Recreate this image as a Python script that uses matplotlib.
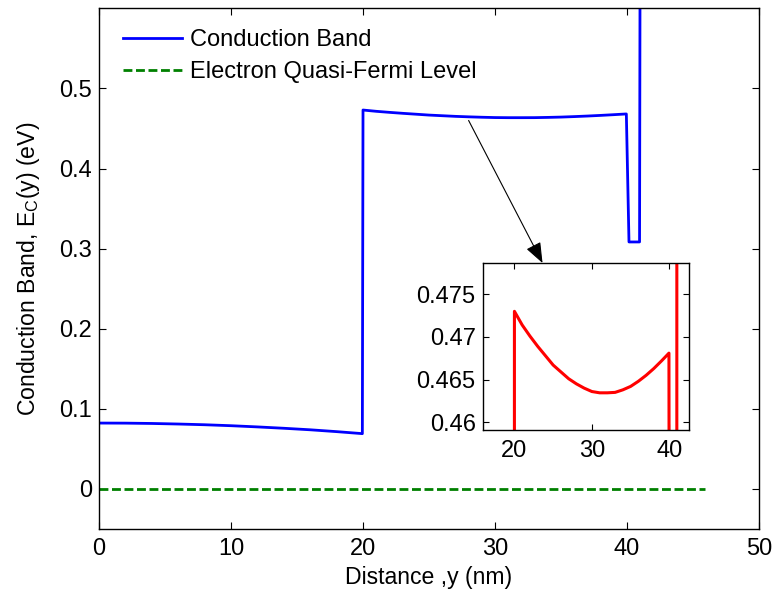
import matplotlib
matplotlib.use("Agg")
import matplotlib.pyplot as plt

plt.rcParams['font.family'] = ['Liberation Sans', 'DejaVu Sans']
plt.rcParams['mathtext.fontset'] = 'custom'
plt.rcParams['mathtext.rm'] = 'Liberation Sans'

# Conduction band profile along the channel (nm, eV)
y_nm = [0, 2, 4, 6, 8, 10, 12, 14, 16, 18, 19.95,
        20.0, 21, 22, 23, 24, 25, 26, 27, 28, 29, 30, 31, 32, 33, 34, 35,
        36, 37, 38, 39, 39.95, 40.15, 40.95, 41.0]
ec = [0.0822, 0.0821, 0.0817, 0.0810, 0.0801, 0.0789, 0.0774, 0.0757, 0.0738, 0.0715, 0.0690,
      0.4730, 0.4714, 0.4701, 0.4689, 0.4678, 0.4667, 0.4659, 0.4651, 0.4645, 0.4640, 0.4636,
      0.46345, 0.46345, 0.4635, 0.4638, 0.4642, 0.4648, 0.4655, 0.4663, 0.4672, 0.4681,
      0.3083, 0.3083, 0.75]

# Electron quasi-Fermi level
fermi_x = [0, 45.9]
fermi_e = [0.0, 0.0]

xticks = [0, 10, 20, 30, 40, 50]
yticks = [0, 0.1, 0.2, 0.3, 0.4, 0.5]
yticklabels = ['0', '0.1', '0.2', '0.3', '0.4', '0.5']
inset_xticks = [20, 30, 40]
inset_yticks = [0.46, 0.465, 0.47, 0.475]
inset_yticklabels = ['0.46', '0.465', '0.47', '0.475']

FS_TICK = 17
FS_LABEL = 16.6

fig = plt.figure(figsize=(7.76, 5.93), dpi=100)
ax = fig.add_axes([0.1276, 0.108, 0.8505, 0.878])

ax.plot(y_nm, ec, color='#0000ff', lw=2.0, label='Conduction Band')
ax.plot(fermi_x, fermi_e, color='#008000', lw=2.0, linestyle=(0, (3.2, 1.3)),
        label='Electron Quasi-Fermi Level')

ax.set_xlim(0, 50)
ax.set_ylim(-0.05, 0.6)
ax.set_xticks(xticks)
ax.set_yticks(yticks)
ax.set_yticklabels(yticklabels)
ax.tick_params(direction='in', top=True, right=True, length=5, width=0.8,
               labelsize=FS_TICK, pad=5)
ax.tick_params(axis='x', pad=6.5)
for s in ax.spines.values():
    s.set_linewidth(1.0)
ax.set_xlabel('Distance ,y (nm)', fontsize=FS_LABEL, labelpad=4)
ax.set_ylabel(r'Conduction Band, E$_\mathregular{C}$(y) (eV)', fontsize=FS_LABEL)
ax.yaxis.set_label_coords(-0.087, 0.5)

leg = ax.legend(loc='upper left', frameon=False, fontsize=FS_TICK, handlelength=2.5,
                handletextpad=0.35, labelspacing=0.42, borderaxespad=0.0,
                borderpad=0.0, bbox_to_anchor=(0.036, 0.96))

ax.annotate('', xy=(33.6, 0.282), xytext=(28.0, 0.460),
            arrowprops=dict(arrowstyle='-|>,head_length=0.9,head_width=0.35',
                            color='black', lw=0.8, mutation_scale=14,
                            shrinkA=0, shrinkB=0))

# Zoomed view of the channel region
ins = fig.add_axes([0.622, 0.275, 0.266, 0.282])
ins.plot(y_nm, ec, color='#ff0000', lw=2.2)
ins.set_xlim(15.9, 42.55)
ins.set_ylim(0.4591, 0.4787)
ins.set_xticks(inset_xticks)
ins.set_yticks(inset_yticks)
ins.set_yticklabels(inset_yticklabels)
ins.tick_params(direction='in', top=True, right=True, length=4, width=0.8,
                labelsize=FS_TICK, pad=5)
ins.tick_params(axis='x', pad=7)
for s in ins.spines.values():
    s.set_linewidth(1.0)

fig.savefig('out.png', dpi=100)
